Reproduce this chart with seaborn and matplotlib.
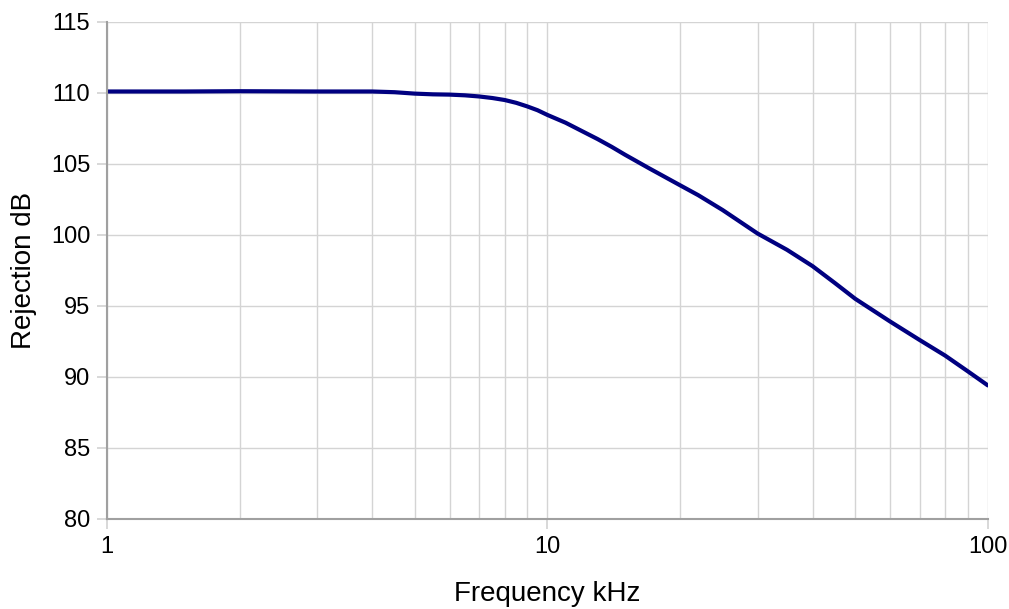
import numpy as np
import pandas as pd
import matplotlib
matplotlib.use("Agg")
import matplotlib.pyplot as plt
import seaborn as sns
from matplotlib.ticker import FixedLocator, NullFormatter

freq_khz = [1, 1.5, 2, 3, 4, 4.5, 5, 5.5, 6, 6.5, 7, 7.5, 8, 8.5, 9, 9.5, 10, 11, 12, 13, 14, 15, 17, 20, 22, 25, 30, 35, 40, 45, 50, 60, 70, 80, 90, 100]
rejection_db = [110.1, 110.1, 110.12, 110.1, 110.1, 110.05, 109.95, 109.9, 109.88, 109.83, 109.75, 109.64, 109.5, 109.3, 109.05, 108.78, 108.45, 107.9, 107.3, 106.75, 106.2, 105.65, 104.7, 103.5, 102.8, 101.75, 100.1, 98.95, 97.8, 96.6, 95.5, 93.9, 92.6, 91.5, 90.4, 89.4]
y_ticks = [80, 85, 90, 95, 100, 105, 110, 115]
x_ticks = [1, 10, 100]
x_tick_labels = ["1", "10", "100"]

sns.set_theme(style="white")
plt.rcParams['font.family'] = ['Liberation Sans', 'DejaVu Sans']

fig, ax = plt.subplots(figsize=(10.09, 6.09), dpi=100)
fig.subplots_adjust(left=0.106, right=0.979, top=0.964, bottom=0.148)

df = pd.DataFrame({"f": freq_khz, "r": rejection_db})
sns.lineplot(data=df, x="f", y="r", ax=ax, color="#000080", linewidth=3)

ax.set_xscale("log")
ax.set_xlim(1, 100)
ax.set_ylim(80, 115)
ax.xaxis.set_major_locator(FixedLocator(x_ticks))
ax.set_xticklabels(x_tick_labels)
minors = [m * d for d in (1, 10) for m in range(2, 10)]
ax.xaxis.set_minor_locator(FixedLocator(minors))
ax.xaxis.set_minor_formatter(NullFormatter())
ax.set_yticks(y_ticks)

ax.grid(True, which="both", color="#d4d4d4", linewidth=1)
ax.set_axisbelow(True)
for s in ["top", "right"]:
    ax.spines[s].set_visible(False)
for s in ["left", "bottom"]:
    ax.spines[s].set_color("#a0a0a0")
    ax.spines[s].set_linewidth(1.5)

ax.tick_params(axis="both", which="major", labelsize=17, length=7, color="#d4d4d4", direction="out", left=True, bottom=True, pad=5, labelcolor="black")
ax.tick_params(axis="x", which="minor", length=0)

ax.set_xlabel("Frequency kHz", fontsize=20, labelpad=17, color="black")
ax.set_ylabel("Rejection dB", fontsize=20, labelpad=10, color="black")

fig.savefig("out.png", dpi=100, facecolor="white")
